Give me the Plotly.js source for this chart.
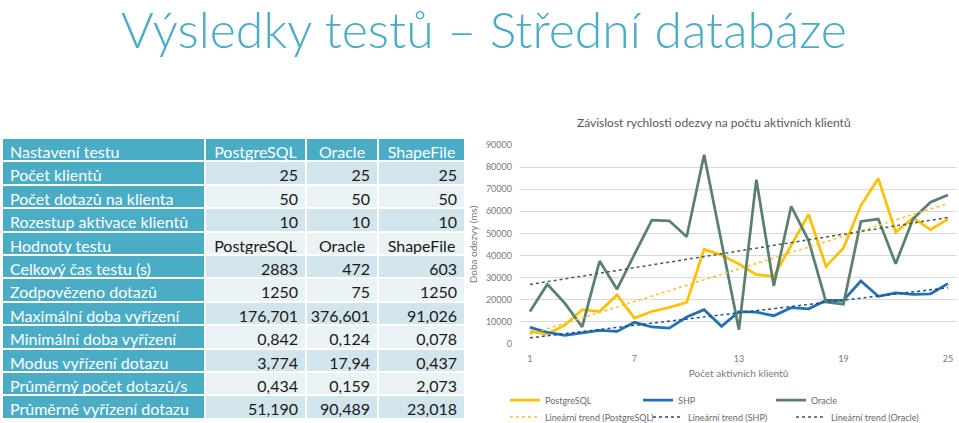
<!DOCTYPE html>
<html>
<head>
<meta charset="utf-8">
<script src="https://cdn.plot.ly/plotly-3.0.1.min.js"></script>
<style>
  html, body { margin: 0; padding: 0; background: #fff; }
  #slide { width: 959px; height: 423px; }
</style>
</head>
<body>
<div id="slide"></div>
<script>
// table data
const headerRow = ['Nastavení testu', 'PostgreSQL', 'Oracle', 'ShapeFile'];
const rowLabels = ['Počet klientů', 'Počet dotazů na klienta', 'Rozestup aktivace klientů', 'Hodnoty testu',
    'Celkový čas testu (s)', 'Zodpovězeno dotazů', 'Maximální doba vyřízení', 'Minimální doba vyřízení',
    'Modus vyřízení dotazu', 'Průměrný počet dotazů/s', 'Průměrné vyřízení dotazu'];
const pgColumn = ['25', '50', '10', 'PostgreSQL', '2883', '1250', '176,701', '0,842', '3,774', '0,434', '51,190'];
const oracleColumn = ['25', '50', '10', 'Oracle', '472', '75', '376,601', '0,124', '17,94', '0,159', '90,489'];
const shpColumn = ['25', '50', '10', 'ShapeFile', '603', '1250', '91,026', '0,078', '0,437', '2,073', '23,018'];

// chart data (response time in ms per number of active clients)
const clients = [1, 2, 3, 4, 5, 6, 7, 8, 9, 10, 11, 12, 13, 14, 15, 16, 17, 18, 19, 20, 21, 22, 23, 24, 25];
const pgTimes = [5700, 4500, 8500, 15500, 14700, 22200, 11700, 14700, 16500, 18800, 42800, 40200, 36200,
    31400, 30600, 44700, 58600, 35100, 43400, 62600, 74900, 50600, 57000, 51700, 56500];
const shpTimes = [7500, 5300, 3900, 4900, 6200, 5700, 9800, 7700, 7200, 12200, 15500, 8000, 14600,
    14400, 12800, 16400, 15900, 19700, 19700, 28500, 21600, 23100, 22400, 22700, 27300];
const oracleTimes = [14700, 27000, 18500, 7700, 37500, 24800, 40500, 56000, 55700, 48500, 85600, 46000, 6500,
    74300, 26300, 62300, 46800, 19000, 18000, 55400, 56500, 36300, 56600, 64100, 67400];

const teal = '#4BACC6';
const bandDark = '#D2E5EC';
const bandLight = '#E9F2F5';

// least squares line, like Excel's linear trend
function linearTrend(xs, ys) {
    const n = xs.length;
    let sx = 0, sy = 0, sxy = 0, sxx = 0;
    for (let i = 0; i < n; i++) {
        sx += xs[i]; sy += ys[i]; sxy += xs[i] * ys[i]; sxx += xs[i] * xs[i];
    }
    const b = (n * sxy - sx * sy) / (n * sxx - sx * sx);
    const a = (sy - b * sx) / n;
    const ends = [xs[0], xs[n - 1]];
    return {x: ends, y: ends.map(v => a + b * v)};
}

const fillCols = [rowLabels.map(() => teal)];
const fontCols = [rowLabels.map(() => '#ffffff')];
const alignCols = [rowLabels.map(() => 'left')];
for (let c = 0; c < 3; c++) {
    fillCols.push(rowLabels.map((_, i) => i % 2 === 0 ? bandDark : bandLight));
    fontCols.push(rowLabels.map(() => '#1a1a1a'));
    alignCols.push(rowLabels.map((_, i) => i === 3 ? 'center' : 'right'));
}

const table = {
    type: 'table',
    domain: {x: [2 / 959, 465 / 959], y: [1 / 423, 285 / 423]},
    columnwidth: [203, 101, 72, 87],
    header: {
        values: headerRow,
        align: ['left', 'center', 'center', 'center'],
        fill: {color: teal},
        line: {color: '#ffffff', width: 2},
        font: {family: 'Lato, sans-serif', size: 16, color: '#ffffff'},
        height: 23.4
    },
    cells: {
        values: [rowLabels, pgColumn, oracleColumn, shpColumn],
        align: alignCols,
        fill: {color: fillCols},
        line: {color: '#ffffff', width: 2},
        font: {family: 'Lato, sans-serif', size: 16, color: fontCols},
        height: 23.4
    }
};

const pgTrend = linearTrend(clients, pgTimes);
const shpTrend = linearTrend(clients, shpTimes);
const oracleTrend = linearTrend(clients, oracleTimes);

const data = [
    table,
    {x: clients, y: pgTimes, name: 'PostgreSQL', type: 'scatter', mode: 'lines',
        line: {color: '#FFC000', width: 2.75}},
    {x: clients, y: shpTimes, name: 'SHP', type: 'scatter', mode: 'lines',
        line: {color: '#2270B5', width: 2.75}},
    {x: clients, y: oracleTimes, name: 'Oracle', type: 'scatter', mode: 'lines',
        line: {color: '#5B8070', width: 2.75}},
    {x: pgTrend.x, y: pgTrend.y, name: 'Lineární trend (PostgreSQL)', type: 'scatter', mode: 'lines',
        legend: 'legend2', line: {color: '#F2C230', width: 1.5, dash: 'dot'}},
    {x: shpTrend.x, y: shpTrend.y, name: 'Lineární trend (SHP)', type: 'scatter', mode: 'lines',
        legend: 'legend2', line: {color: '#1F4E86', width: 1.5, dash: 'dot'}},
    {x: oracleTrend.x, y: oracleTrend.y, name: 'Lineární trend (Oracle)', type: 'scatter', mode: 'lines',
        legend: 'legend2', line: {color: '#44594F', width: 1.5, dash: 'dot'}}
];

const tickFont = {family: 'Lato, sans-serif', size: 9, color: '#7a7a7a'};
const axisTitleFont = {family: 'Lato, sans-serif', size: 10, color: '#7a7a7a'};
const legendFont = {family: 'Lato, sans-serif', size: 9, color: '#6a6a6a'};

const layout = {
    width: 959,
    height: 423,
    margin: {l: 0, r: 0, t: 0, b: 0, autoexpand: false},
    paper_bgcolor: '#ffffff',
    plot_bgcolor: '#ffffff',
    title: {
        text: 'Výsledky testů – Střední databáze',
        x: 484 / 959, xanchor: 'center',
        y: 1 - 30 / 423, yanchor: 'middle',
        font: {family: 'Lato, sans-serif', size: 50, weight: 300, color: teal}
    },
    xaxis: {
        domain: [520 / 959, 957 / 959],
        range: [0.43, 25.52],
        tickvals: [1, 7, 13, 19, 25],
        showgrid: false, zeroline: false, showline: false,
        tickfont: tickFont,
        ticklabelstandoff: 8,
        title: {text: 'Počet aktivních klientů', font: axisTitleFont, standoff: 6}
    },
    yaxis: {
        domain: [(423 - 344) / 423, (423 - 145) / 423],
        range: [0, 90000],
        dtick: 10000,
        tickformat: 'd',
        gridcolor: '#D9D9D9', gridwidth: 1,
        zeroline: false, showline: false,
        tickfont: tickFont,
        ticklabelstandoff: 7,
        title: {text: 'Doba odezvy (ms)', font: axisTitleFont, standoff: 6}
    },
    showlegend: true,
    legend: {
        orientation: 'h', xanchor: 'left', yanchor: 'middle', x: 505 / 959, y: (423 - 400) / 423,
        entrywidth: 88, itemwidth: 30, font: legendFont, bgcolor: 'rgba(0,0,0,0)'
    },
    legend2: {
        orientation: 'h', xanchor: 'left', yanchor: 'middle', x: 505 / 959, y: (423 - 417) / 423,
        entrywidth: 98, itemwidth: 30, font: legendFont, bgcolor: 'rgba(0,0,0,0)'
    },
    annotations: [{
        text: 'Závislost rychlosti odezvy na počtu aktivních klientů',
        xref: 'paper', yref: 'paper', x: 714 / 959, y: (423 - 123) / 423,
        xanchor: 'center', yanchor: 'middle', showarrow: false,
        font: {family: 'Lato, sans-serif', size: 12, color: '#595959'}
    }]
};

Plotly.newPlot('slide', data, layout, {displayModeBar: false, staticPlot: true});
</script>
</body>
</html>
